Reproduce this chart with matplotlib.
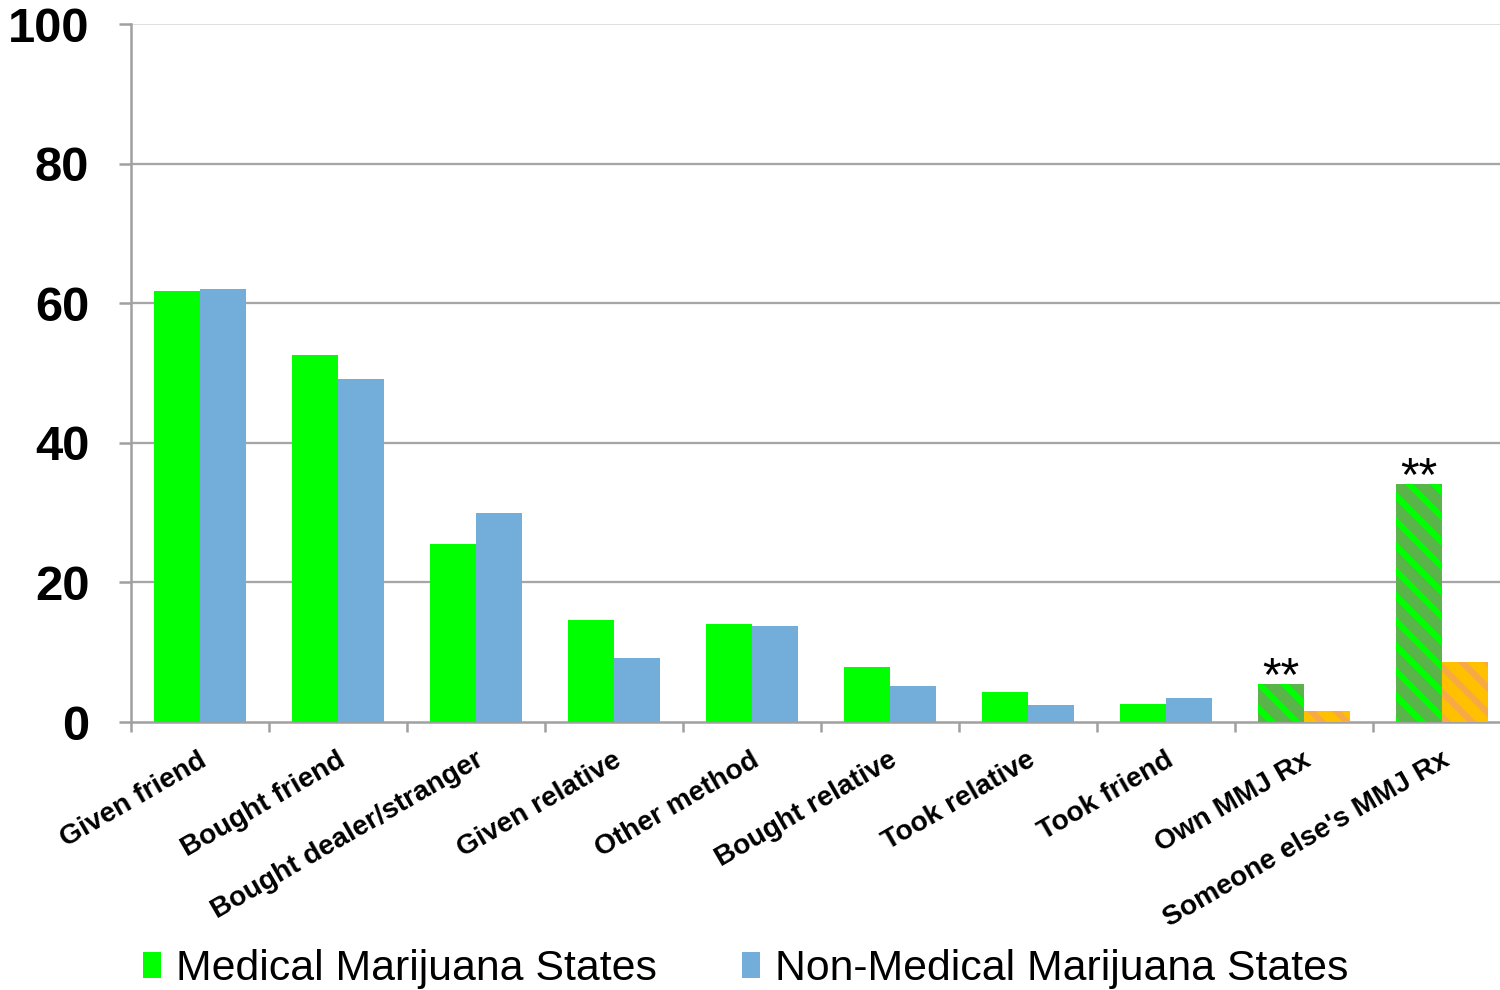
import numpy as np
import matplotlib.pyplot as plt
from matplotlib.patches import Patch

plt.rcParams['font.family'] = ['Liberation Sans', 'DejaVu Sans']
plt.rcParams['hatch.linewidth'] = 3.0

categories = ['Given friend', 'Bought friend', 'Bought dealer/stranger', 'Given relative',
              'Other method', 'Bought relative', 'Took relative', 'Took friend',
              'Own MMJ Rx', "Someone else's MMJ Rx"]
mmj = [61.7, 52.6, 25.5, 14.6, 14.0, 7.9, 4.3, 2.6, 5.4, 34.1]
non_mmj = [62.0, 49.1, 29.9, 9.2, 13.8, 5.2, 2.4, 3.4, 1.6, 8.6]
# last two categories are drawn hatched and flagged with **
hatched = [False]*8 + [True, True]
stars = ['', '', '', '', '', '', '', '', '**', '**']

fig = plt.figure(figsize=(10, 6.6), dpi=150)
ax = fig.add_axes([131/1500, 1 - 722/990, 1380/1500, 698/990])

x = np.arange(len(categories)) + 0.5
w = 1/3
for i in range(len(categories)):
    if hatched[i]:
        ax.bar(x[i] - w/2, mmj[i], w, color='#59B54A', edgecolor='#00FF00',
               hatch='\\\\', linewidth=0, zorder=3)
        ax.bar(x[i] + w/2, non_mmj[i], w, color='#FFC000', edgecolor='#F7A945',
               hatch='\\\\', linewidth=0, zorder=3)
    else:
        ax.bar(x[i] - w/2, mmj[i], w, color='#00FF00', linewidth=0, zorder=3)
        ax.bar(x[i] + w/2, non_mmj[i], w, color='#72AED9', linewidth=0, zorder=3)
    if stars[i]:
        ax.text(x[i] - w/2, mmj[i] - 0.8, stars[i], ha='center', va='baseline',
                fontsize=23, zorder=4)

ax.set_xlim(0, len(categories))
ax.set_ylim(0, 100)
ax.set_yticks([0, 20, 40, 60, 80, 100])
ax.tick_params(axis='y', labelsize=23.5, length=6, width=1.2, color='#A0A0A0', pad=14)
for lab in ax.get_yticklabels():
    lab.set_fontweight('bold')
ax.set_xticks(np.arange(len(categories) + 1))
ax.set_xticklabels([])
ax.tick_params(axis='x', length=5, width=1.2, color='#A0A0A0')
for i, c in enumerate(categories):
    ax.text(x[i] - 0.01, -3.6, c, rotation=30, ha='right', va='top',
            rotation_mode='anchor', fontsize=13.5, fontweight='bold', clip_on=False)

for v in [20, 40, 60, 80]:
    ax.axhline(v, color='#A6A6A6', linewidth=1.1, zorder=1)
ax.axhline(100, color='#D9D9D9', linewidth=0.8, zorder=1)

for s in ['top', 'right']:
    ax.spines[s].set_visible(False)
for s in ['left', 'bottom']:
    ax.spines[s].set_color('#A0A0A0')
    ax.spines[s].set_linewidth(1.2)

handles = [Patch(facecolor='#00FF00', label='Medical Marijuana States'),
           Patch(facecolor='#72AED9', label='Non-Medical Marijuana States')]
fig.legend(handles=handles, loc='center', bbox_to_anchor=(0.497, 0.021), ncol=2,
           frameon=False, fontsize=20.5, handlelength=0.42, handleheight=0.55,
           handletextpad=0.35, columnspacing=2.0)

fig.savefig('out.png', dpi=150)
